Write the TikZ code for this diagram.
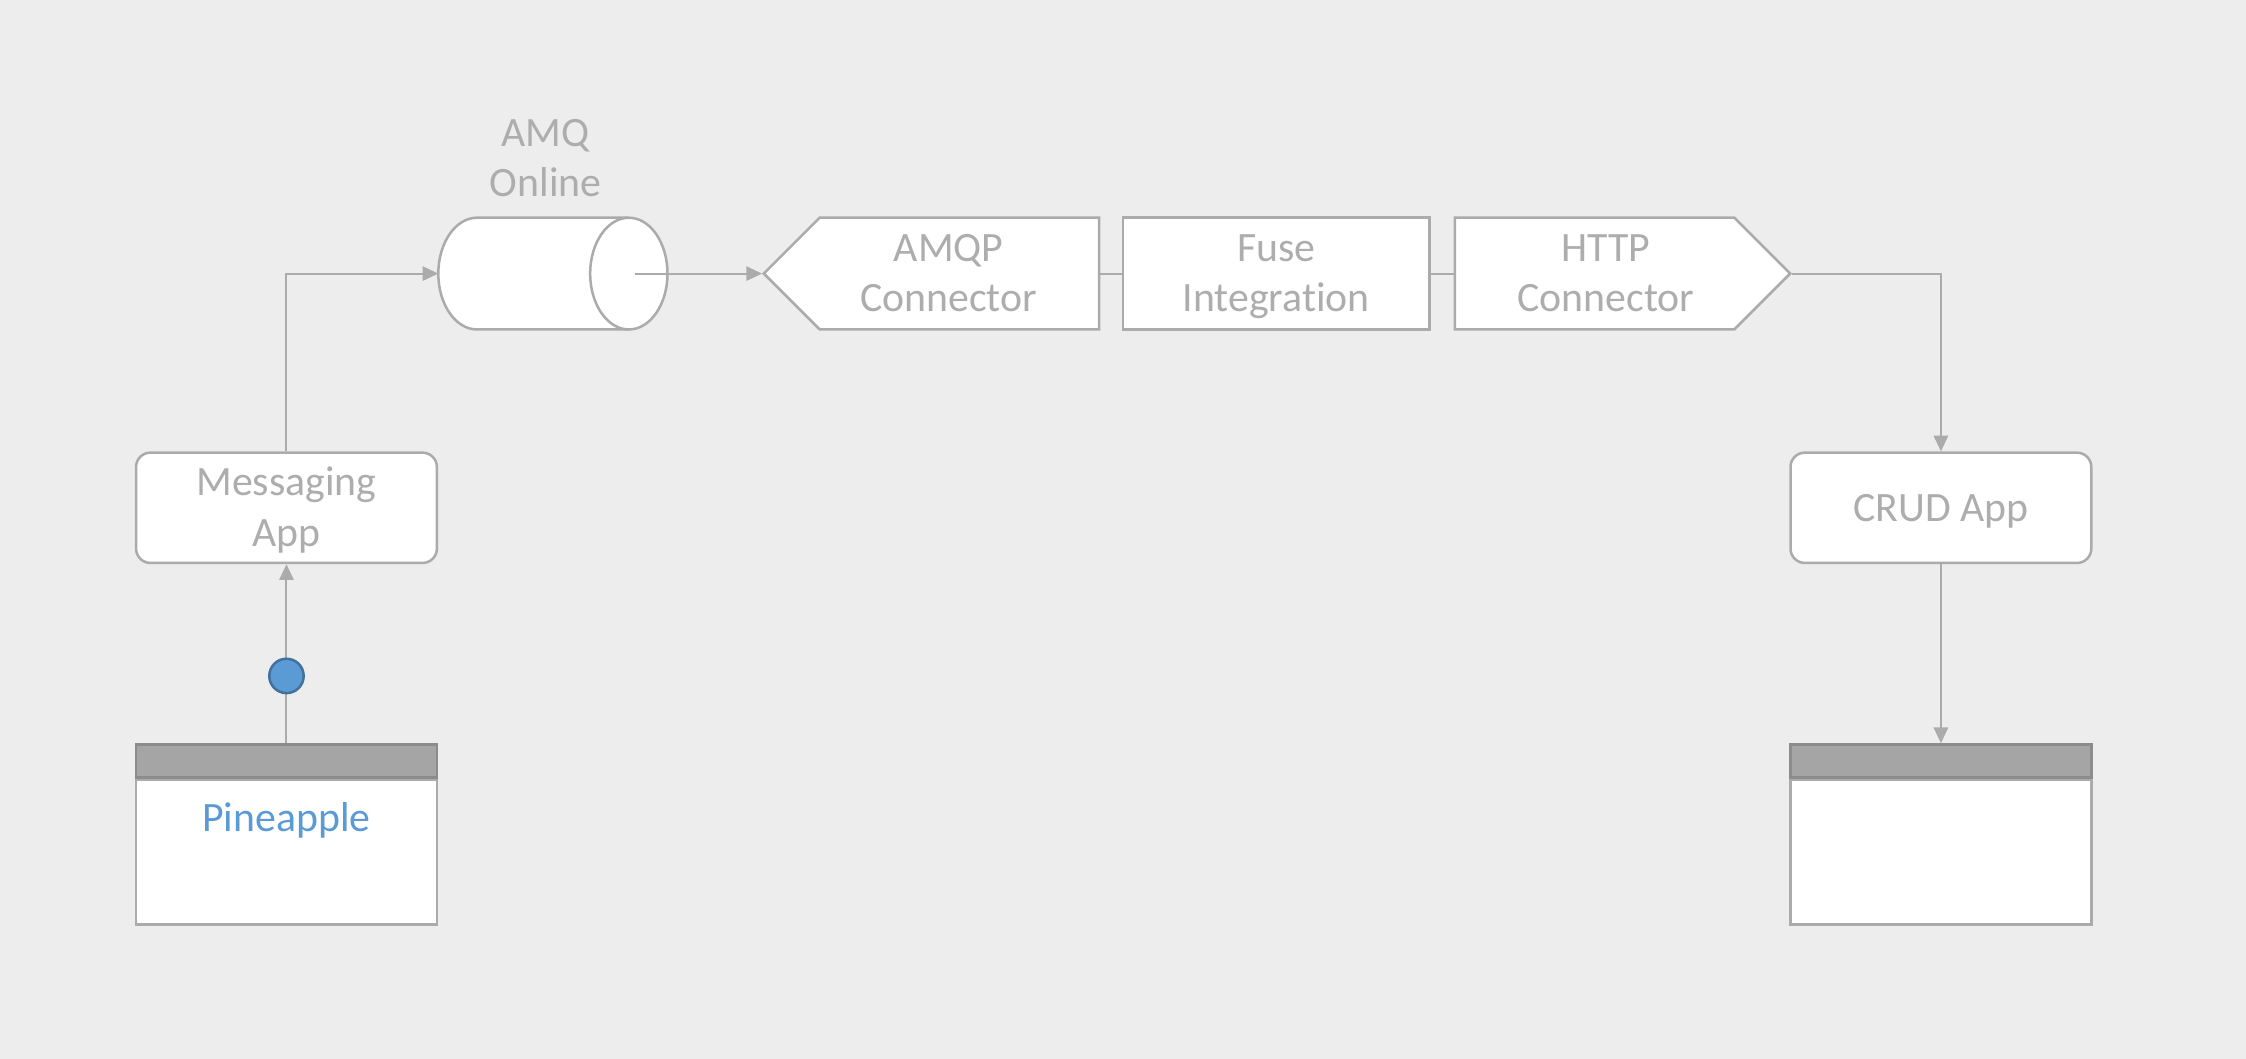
\documentclass[tikz,border=0pt]{standalone}
\usepackage{fontspec}
\setmainfont{Carlito}[Ligatures=NoCommon]
\usetikzlibrary{positioning, calc, arrows.meta, shapes.symbols}

\definecolor{bggray}{HTML}{EDEDED}
\definecolor{linegray}{HTML}{ABABAB}
\definecolor{textgray}{HTML}{ADADAD}
\definecolor{headgray}{HTML}{A5A5A5}
\definecolor{headline}{HTML}{8C8C8C}
\definecolor{dotblue}{HTML}{5B9BD5}
\definecolor{dotline}{HTML}{41719C}

% line strut, so that boxed text sits like the slide text
\newcommand\ls{\rule[-1.75pt]{0pt}{8.75pt}}

\tikzset{
  plain/.style={text=textgray, align=center, inner sep=0pt, font=\fontsize{8.3}{10}\selectfont},
  rect/.style={plain, draw=linegray, fill=white, line width=0.5pt, minimum width=21mm, minimum height=7.8mm,
    execute at end node=\ls},
  app/.style={rect, rounded corners=1mm, minimum height=7.7mm},
  connector/.style={rect, signal, signal from=nowhere, signal pointer angle=90, minimum width=23.4mm},
  queue/.style={minimum width=16mm, minimum height=7.8mm, inner sep=0pt, outer sep=0pt},
  shapeline/.style={draw=linegray, line width=0.5pt},
  head/.style={draw=headline, fill=headgray, line width=0.5pt, minimum width=21mm, minimum height=2.3mm, inner sep=0pt},
  body/.style={draw=linegray, fill=white, line width=0.5pt, minimum width=21mm, minimum height=10.1mm, inner sep=0pt},
  dot/.style={circle, fill=dotblue, draw=dotline, line width=0.5pt, minimum size=2.4mm, inner sep=0pt},
  link/.style={draw=linegray, line width=0.4pt},
}

\begin{document}
\begin{tikzpicture}[x=1mm, y=1mm, >={Triangle[length=1.1mm, width=1mm]}]
  \fill[bggray] (0,0) rectangle (156.8,-73.9);
  \useasboundingbox (0,0) rectangle (156.8,-73.9);

  % integration chain
  \node[rect, minimum width=21.4mm] (fuse) at (89.1,-19.1) {\ls Fuse\\Integration};
  \node[connector, signal to=west, left=1.5mm of fuse] (amqp) {\ls AMQP\hspace*{1.5mm}\\Connector\hspace*{1.5mm}};
  \node[connector, signal to=east, right=1.6mm of fuse] (http) {\ls\hspace*{1.6mm}HTTP\\\hspace*{1.6mm}Connector};
  \node[queue, left=6.6mm of amqp] (amq) {};
  \node[plain, above=1.4mm of amq, xshift=-0.5mm] (amqlabel) {AMQ\\Online};

  % the queue drawn as a lying cylinder
  \draw[shapeline, fill=white] ([xshift=2.7mm]amq.north west) -- ([xshift=-2.7mm]amq.north east)
    arc[start angle=90, end angle=-90, x radius=2.7mm, y radius=3.9mm]
    -- ([xshift=2.7mm]amq.south west)
    arc[start angle=270, end angle=90, x radius=2.7mm, y radius=3.9mm] -- cycle;
  \draw[shapeline] ([xshift=-2.7mm]amq.north east)
    arc[start angle=90, end angle=270, x radius=2.7mm, y radius=3.9mm];

  % apps and their screens
  \node[app] (msg) at (20,-35.45) {\ls Messaging\\App};
  \node[head, below=12.5mm of msg] (pinehead) {};
  \node[body, below=0pt of pinehead] (pine) {};
  \node[plain, text=dotblue] (pinelabel) at ($(pine.north)+(0,-2.9)$) {Pineapple};
  \node[app] (crud) at (135.5,-35.45) {CRUD App};
  \node[head, below=12.5mm of crud] (dbhead) {};
  \node[body, below=0pt of dbhead] (db) {};

  \coordinate (amqout) at ($(amq.east)+(-2.3,0)$);
  \draw[link, ->] (pinehead.north) -- (msg.south) node[dot, pos=0.376] (msgdot) {};
  \draw[link, ->] (msg.north) |- (amq.west);
  \draw[link, ->] (amqout) -- (amqp.west);
  \draw[link] (amqp.east) -- (fuse.west);
  \draw[link] (fuse.east) -- (http.west);
  \draw[link, ->] (http.east) -| (crud.north);
  \draw[link, ->] (crud.south) -- (dbhead.north);
\end{tikzpicture}
\end{document}
